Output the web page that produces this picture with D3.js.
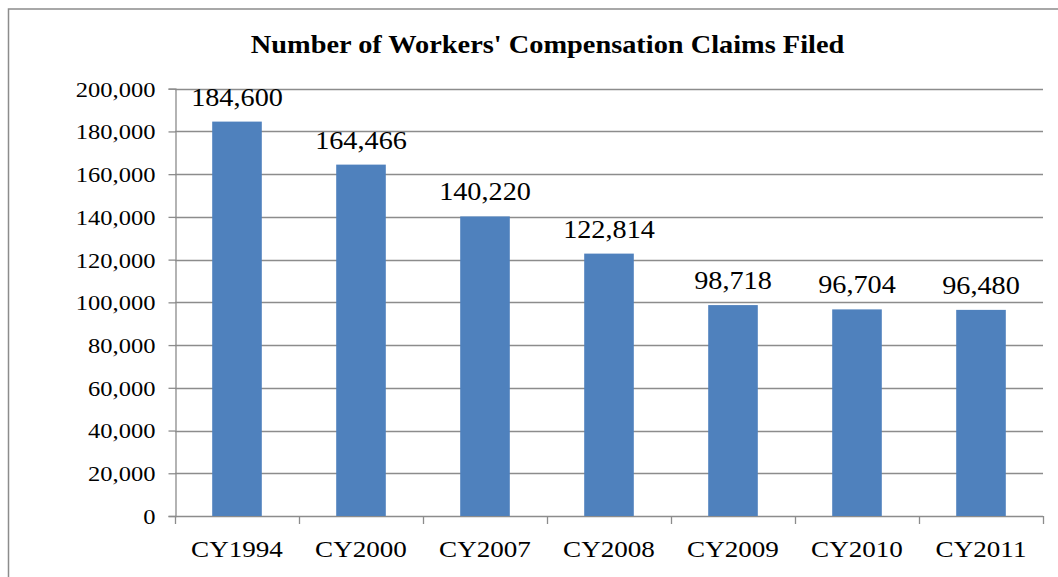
<!DOCTYPE html>
<html>
<head>
<meta charset="utf-8">
<script src="https://cdn.jsdelivr.net/npm/d3@7"></script>
<style>
  body { margin: 0; background: #fff; }
  text { font-family: "Liberation Serif", "Times New Roman", "DejaVu Serif", serif; fill: #000; }
</style>
</head>
<body>
<div id="vis"></div>
<script>
// chart data
var years = ['CY1994', 'CY2000', 'CY2007', 'CY2008', 'CY2009', 'CY2010', 'CY2011'];
var claims = [184600, 164466, 140220, 122814, 98718, 96704, 96480];
var yTicks = [0, 20000, 40000, 60000, 80000, 100000, 120000, 140000, 160000, 180000, 200000];

var width = 1058;
var height = 577;
var margin = { top: 88.7, left: 175, right: 15, bottom: 61 };
var gridColor = '#8c8c8c';

// horizontal stretch used to mimic the wide glyphs of the original
var sx = 1.13;

var svg = d3.select('#vis')
  .append('svg')
  .attr('width', width)
  .attr('height', height);

// outer border (runs off the right and bottom edge like the original)
svg.append('rect')
  .attr('x', 8.5)
  .attr('y', 9)
  .attr('width', 1100)
  .attr('height', 700)
  .attr('fill', 'none')
  .attr('stroke', gridColor)
  .attr('stroke-width', 1.5);

var x = d3.scaleBand()
  .domain(years)
  .range([margin.left, width - margin.right])
  .paddingInner(0.6)
  .paddingOuter(0.3);

var y = d3.scaleLinear()
  .domain([0, 200000])
  .range([height - margin.bottom, margin.top]);

// gridlines
svg.append('g')
  .selectAll('line')
  .data(yTicks.slice(1))
  .enter().append('line')
  .attr('x1', margin.left)
  .attr('x2', width - margin.right)
  .attr('y1', function (d) { return Math.round(y(d)) + 0.5; })
  .attr('y2', function (d) { return Math.round(y(d)) + 0.5; })
  .attr('stroke', gridColor)
  .attr('stroke-width', 1.3);

// y axis
var yAxis = svg.append('g')
  .attr('transform', 'translate(' + (margin.left + 0.5) + ',0)')
  .call(d3.axisLeft(y).tickValues(yTicks).tickSize(7).tickPadding(13)
    .tickFormat(d3.format(',')));

yAxis.selectAll('.tick text')
  .style('font-size', '21.7px')
  .attr('dy', '0.34em')
  .attr('x', -20 / sx)
  .attr('transform', 'scale(' + sx + ',1)');

yAxis.select('.domain').attr('stroke', gridColor).attr('stroke-width', 1.3);
yAxis.selectAll('.tick line').attr('stroke', gridColor).attr('stroke-width', 1.3);

// x axis: ticks sit between the bars
var step = x.step();
var boundaries = d3.range(years.length + 1).map(function (i) {
  return margin.left + i * step;
});

var xAxis = svg.append('g');
xAxis.append('line')
  .attr('x1', margin.left)
  .attr('x2', width - margin.right)
  .attr('y1', y(0) + 0.5)
  .attr('y2', y(0) + 0.5)
  .attr('stroke', gridColor)
  .attr('stroke-width', 1.3);

xAxis.selectAll('.tick-mark')
  .data(boundaries)
  .enter().append('line')
  .attr('class', 'tick-mark')
  .attr('x1', function (d) { return Math.round(d) + 0.5; })
  .attr('x2', function (d) { return Math.round(d) + 0.5; })
  .attr('y1', y(0))
  .attr('y2', y(0) + 8)
  .attr('stroke', gridColor)
  .attr('stroke-width', 1.3);

xAxis.selectAll('.cat')
  .data(years)
  .enter().append('text')
  .attr('class', 'cat')
  .attr('transform', function (d) {
    return 'translate(' + (x(d) + x.bandwidth() / 2) + ',' + (y(0) + 41) + ') scale(' + sx + ',1)';
  })
  .attr('text-anchor', 'middle')
  .style('font-size', '24px')
  .text(function (d) { return d; });

// bars
svg.append('g')
  .selectAll('rect')
  .data(claims)
  .enter().append('rect')
  .attr('x', function (d, i) { return x(years[i]); })
  .attr('y', function (d) { return y(d); })
  .attr('width', x.bandwidth())
  .attr('height', function (d) { return y(0) - y(d); })
  .attr('fill', '#4f81bd');

// value labels
svg.append('g')
  .selectAll('text')
  .data(claims)
  .enter().append('text')
  .attr('transform', function (d, i) {
    return 'translate(' + (x(years[i]) + x.bandwidth() / 2) + ',' + (y(d) - 16) + ') scale(' + sx + ',1)';
  })
  .attr('text-anchor', 'middle')
  .style('font-size', '25px')
  .text(function (d) { return d3.format(',')(d); });

// title
svg.append('text')
  .attr('transform', 'translate(547.5,53) scale(' + sx + ',1)')
  .attr('text-anchor', 'middle')
  .style('font-size', '25.1px')
  .style('font-weight', 'bold')
  .text("Number of Workers' Compensation Claims Filed");
</script>
</body>
</html>
